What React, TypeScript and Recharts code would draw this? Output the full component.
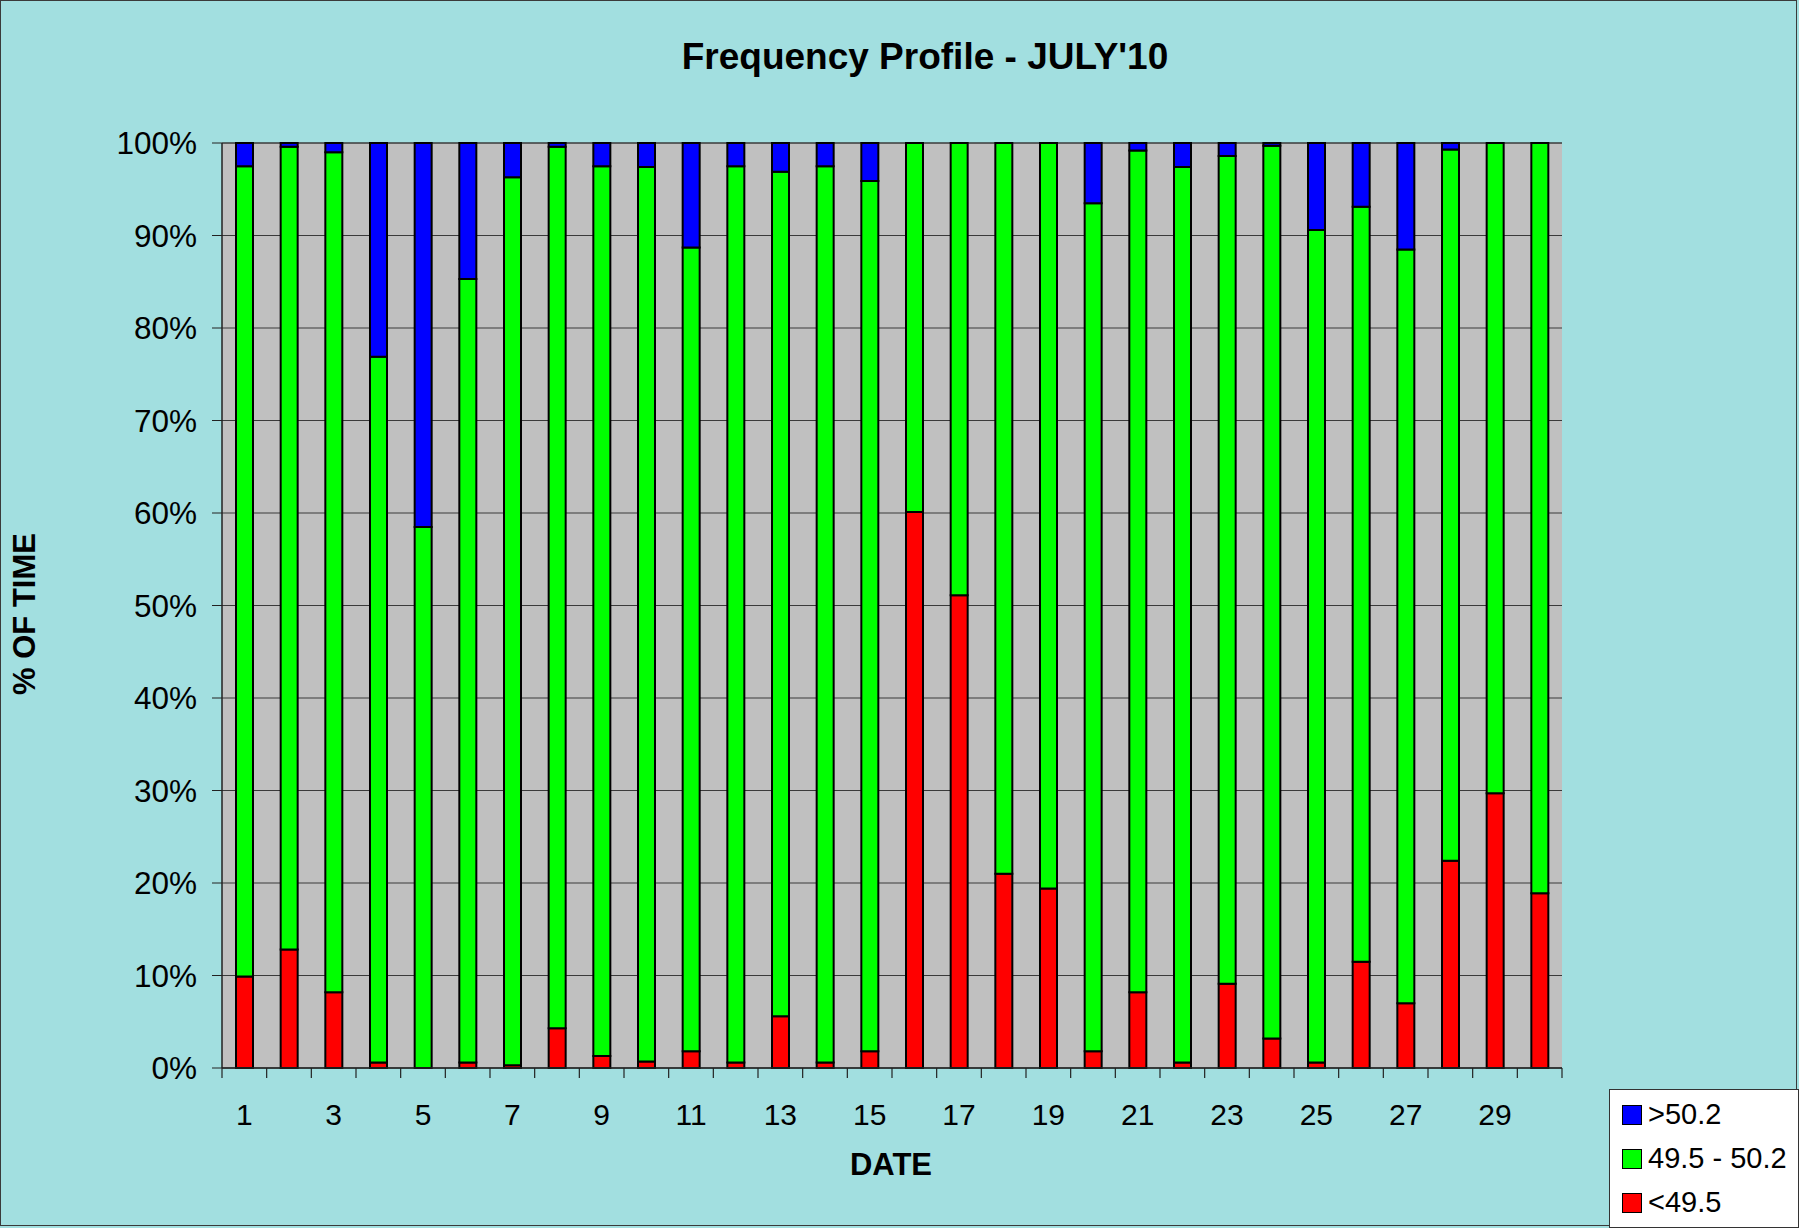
import { BarChart, Bar, XAxis, YAxis, CartesianGrid } from 'recharts';

const DATES = ['1', '2', '3', '4', '5', '6', '7', '8', '9', '10', '11', '12', '13', '14', '15',
  '16', '17', '18', '19', '20', '21', '22', '23', '24', '25', '26', '27', '28', '29', '30'];

// % of time below 49.5 Hz
const LOW = [9.9, 12.8, 8.2, 0.6, 0, 0.6, 0.3, 4.3, 1.3, 0.7, 1.8, 0.6, 5.6, 0.6, 1.8,
  60.1, 51.1, 21.0, 19.4, 1.8, 8.2, 0.6, 9.1, 3.2, 0.6, 11.5, 7.0, 22.4, 29.7, 18.9];
// % of time within 49.5 - 50.2 Hz
const NORMAL = [87.6, 86.8, 90.8, 76.3, 58.5, 84.7, 96.0, 95.3, 96.2, 96.7, 86.9, 96.9, 91.3, 96.9, 94.1,
  39.9, 48.9, 79.0, 80.6, 91.7, 91.0, 96.8, 89.5, 96.5, 90.0, 81.6, 81.5, 76.9, 70.3, 81.1];
// % of time above 50.2 Hz
const HIGH = [2.5, 0.4, 1.0, 23.1, 41.5, 14.7, 3.7, 0.4, 2.5, 2.6, 11.3, 2.5, 3.1, 2.5, 4.1,
  0, 0, 0, 0, 6.5, 0.8, 2.6, 1.4, 0.3, 9.4, 6.9, 11.5, 0.7, 0, 0];

const Y_TICKS = [0, 10, 20, 30, 40, 50, 60, 70, 80, 90, 100];

const SERIES = [
  { key: 'high', name: '>50.2', color: '#0000FF' },
  { key: 'normal', name: '49.5 - 50.2', color: '#00FF00' },
  { key: 'low', name: '<49.5', color: '#FF0000' },
];

const W = 1799;
const H = 1228;
const MARGIN = { top: 143, right: 237, bottom: 100, left: 112 };
const BAND = (W - MARGIN.left - 110 - MARGIN.right) / DATES.length;
const FONT = '"Liberation Sans", Arial, sans-serif';

const data = DATES.map((d, i) => ({ date: d, low: LOW[i], normal: NORMAL[i], high: HIGH[i] }));

function DateTick(props: any) {
  const { x, y, payload, index } = props;
  const half = payload && payload.offset ? payload.offset : BAND / 2;
  const axisY = y - 36;
  return (
    <g>
      <line x1={x - half} x2={x - half} y1={axisY} y2={axisY + 10} stroke="#222" strokeWidth={1.2} />
      {index === DATES.length - 1 && (
        <line x1={x + half} x2={x + half} y1={axisY} y2={axisY + 10} stroke="#222" strokeWidth={1.2} />
      )}
      {index % 2 === 0 && (
        <text x={x} y={y} dy="0.71em" textAnchor="middle" fontSize={30} fill="#000">
          {payload.value}
        </text>
      )}
    </g>
  );
}

export default function App() {
  return (
    <div style={{ position: 'absolute', left: 0, top: 0, width: W, height: H, background: '#A2DFE0', fontFamily: FONT, overflow: 'hidden' }}>
      <div style={{ position: 'absolute', left: 0, top: 0, width: W - 4, height: H - 4, border: '1.5px solid #3a3a3a' }} />
      <div style={{ position: 'absolute', left: 925, top: 57, transform: 'translate(-50%, -50%)', fontSize: 37, fontWeight: 'bold', whiteSpace: 'nowrap' }}>
        Frequency Profile - JULY'10
      </div>
      <BarChart width={W} height={H} data={data} margin={MARGIN} barSize={17} style={{ position: 'absolute', left: 0, top: 0 }}>
        <CartesianGrid vertical={false} horizontal stroke="#3a3a3a" fill="#C0C0C0" />
        <XAxis
          dataKey="date"
          interval={0}
          height={60}
          tickSize={10}
          tickMargin={26}
          tickLine={false}
          axisLine={{ stroke: '#222', strokeWidth: 1.5 }}
          tick={<DateTick />}
        />
        <YAxis
          domain={[0, 100]}
          ticks={Y_TICKS}
          width={110}
          tickSize={10}
          tickMargin={15}
          tickFormatter={(v: number) => `${v}%`}
          tick={{ fontSize: 31.5, fill: '#000' }}
          axisLine={{ stroke: '#222', strokeWidth: 1.5 }}
          tickLine={{ stroke: '#222' }}
        />
        <YAxis yAxisId="frame" orientation="right" width={0} tick={false} tickLine={false} axisLine={{ stroke: '#808080', strokeWidth: 2 }} />
        <Bar dataKey="low" name="<49.5" stackId="a" fill="#FF0000" stroke="#000" strokeWidth={2} isAnimationActive={false} />
        <Bar dataKey="normal" name="49.5 - 50.2" stackId="a" fill="#00FF00" stroke="#000" strokeWidth={2} isAnimationActive={false} />
        <Bar dataKey="high" name=">50.2" stackId="a" fill="#0000FF" stroke="#000" strokeWidth={2} isAnimationActive={false} />
      </BarChart>
      <div style={{ position: 'absolute', left: 891, top: 1165, transform: 'translate(-50%, -50%)', fontSize: 31, fontWeight: 'bold', whiteSpace: 'nowrap' }}>
        DATE
      </div>
      <div style={{ position: 'absolute', left: 25, top: 614, transform: 'translate(-50%, -50%) rotate(-90deg)', fontSize: 31, fontWeight: 'bold', whiteSpace: 'nowrap' }}>
        % OF TIME
      </div>
      <div style={{ position: 'absolute', left: 1609, top: 1089, width: 190, height: 139, background: '#fff', border: '1.5px solid #333', boxSizing: 'border-box' }}>
        {SERIES.map((s, i) => (
          <div key={s.key} style={{ position: 'absolute', left: 12, top: 8 + i * 44, display: 'flex', alignItems: 'center', fontSize: 29, whiteSpace: 'nowrap' }}>
            <span style={{ display: 'inline-block', width: 18, height: 18, background: s.color, border: '1.5px solid #000', marginRight: 6 }} />
            {s.name}
          </div>
        ))}
      </div>
    </div>
  );
}
